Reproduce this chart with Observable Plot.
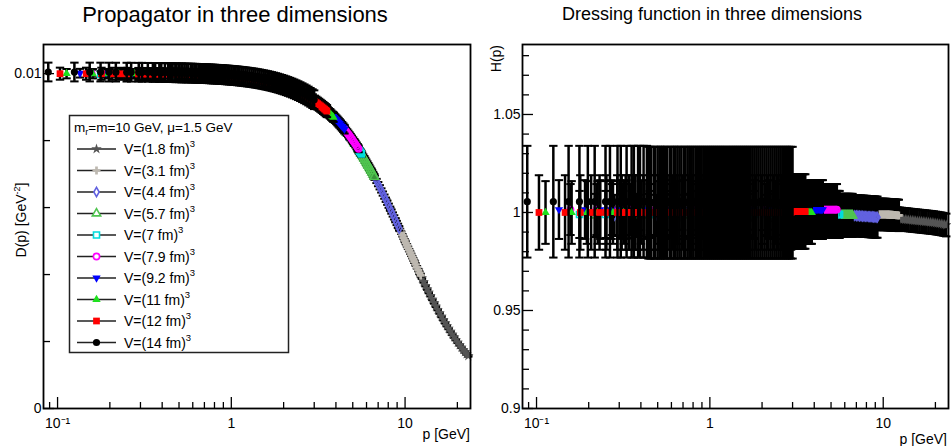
<!DOCTYPE html>
<html><head><meta charset="utf-8">
<script src="https://cdn.jsdelivr.net/npm/d3@7"></script>
<script src="https://cdn.jsdelivr.net/npm/@observablehq/plot@0.6"></script>
<style>
body{margin:0;background:#fff;}
#wrap{position:relative;width:951px;height:446px;overflow:hidden;background:#fff;}
#wrap > svg{position:absolute;top:0;}
</style></head><body><div id="wrap"></div>
<script>
// ---------- data: each point is [p (GeV), H(p), D(p) (GeV^-2)] ----------
const volumes = ["1.8", "3.1", "4.4", "5.7", "7", "7.9", "9.2", "11", "12", "14"];

const v1p8 = [[0.689,0.997,0.009923],[0.974,0.997,0.009876],[1.193,0.997,0.009830],[1.378,0.997,0.009784],[1.7,0.997,0.009690],[2.2,0.997,0.009510],[2.9,0.997,0.009197],[3.8,0.997,0.008712],[5.0,0.997,0.007976],[6.5,0.997,0.007009],[8.2,0.997,0.005962],[10.0,0.997,0.004985],[11.3,0.997,0.004379],[11.9,0.997,0.004126],
[12.2,0.9968,0.004006],[12.5,0.9967,0.003890],[12.8,0.9966,0.003777],[13.1,0.9965,0.003669],[13.4,0.9964,0.003564],[13.7,0.9963,0.003463],[14.0,0.9962,0.003366],[14.35,0.9961,0.003256],[14.7,0.996,0.003151],[15.05,0.9959,0.003050],[15.4,0.9958,0.002953],[15.8,0.9957,0.002848],[16.2,0.9956,0.002747],[16.6,0.9955,0.002651],[17.0,0.9954,0.002559],[17.4,0.9953,0.002471],[17.8,0.9952,0.002387],[18.25,0.9951,0.002298],[18.7,0.995,0.002213],[19.15,0.9949,0.002132],[19.6,0.9948,0.002055],[20.1,0.9946,0.001973],[20.6,0.9945,0.001897],[21.1,0.9943,0.001824],[21.6,0.9942,0.001755],[22.1,0.994,0.001689],[22.6,0.9938,0.001627],[23.1,0.9936,0.001568]];

const v3p1 = [[0.4,0.999,0.009974],[0.566,0.999,0.009958],[0.693,0.999,0.009942],[0.8,0.999,0.009926],[1.0,0.999,0.009891],[1.4,0.999,0.009798],[2.0,0.999,0.009606],[2.8,0.999,0.009264],[3.8,0.999,0.008729],[5.0,0.999,0.007992],[6.4,0.999,0.007087],[7.8,0.999,0.006211],[8.8,0.999,0.005630],[9.2,0.999,0.005411],
[9.35,0.999,0.005330],[9.5,0.999,0.005251],[9.65,0.999,0.005173],[9.8,0.999,0.005096],[9.95,0.999,0.005020],[10.1,0.999,0.004945],[10.25,0.999,0.004872],[10.4,0.999,0.004799],[10.55,0.9989,0.004728],[10.7,0.9989,0.004658],[10.85,0.9989,0.004588],[11.0,0.9988,0.004520],[11.15,0.9988,0.004453],[11.3,0.9988,0.004388],[11.5,0.9987,0.004301],[11.7,0.9987,0.004217],[11.9,0.9986,0.004135],[12.1,0.9986,0.004054],[12.3,0.9985,0.003975]];

const v4p4 = [[0.2818,0.9985,0.009977],[0.3985,0.9985,0.009969],[0.4881,0.9985,0.009961],[0.5636,0.9985,0.009953],[0.7,0.9985,0.009936],[0.9,0.9985,0.009905],[1.2,0.9985,0.009843],[1.6,0.9985,0.009736],[2.1,0.9985,0.009563],[2.7,0.9985,0.009306],[3.4,0.9985,0.008950],[4.2,0.9985,0.008488],[5.0,0.9985,0.007988],[5.8,0.9985,0.007472],[6.4,0.9985,0.007084],[6.6,0.9985,0.006955],
[6.7,0.9984,0.006891],[6.85,0.9984,0.006795],[7.0,0.9983,0.006700],[7.15,0.9983,0.006606],[7.3,0.9982,0.006512],[7.45,0.9982,0.006419],[7.6,0.9981,0.006327],[7.75,0.9981,0.006236],[7.9,0.998,0.006145],[8.05,0.998,0.006056],[8.2,0.9979,0.005967],[8.35,0.9979,0.005880],[8.5,0.9978,0.005793],[8.65,0.9978,0.005708],[8.8,0.9977,0.005623],[8.95,0.9977,0.005540],[9.1,0.9976,0.005457],[9.25,0.9976,0.005376]];

const v5p7 = [[0.2175,0.9985,0.009980],[0.3076,0.9985,0.009976],[0.3767,0.9985,0.009971],[0.435,0.9985,0.009966],[0.55,0.9985,0.009955],[0.75,0.9985,0.009929],[1.0,0.9985,0.009886],[1.3,0.9985,0.009819],[1.7,0.9985,0.009704],[2.2,0.9985,0.009524],[2.8,0.9985,0.009259],[3.4,0.9985,0.008950],[4.0,0.9985,0.008608],[4.6,0.9985,0.008241],[5.1,0.9985,0.007924],[5.4,0.9985,0.007731],
[5.5,0.9985,0.007666],[5.58,0.9985,0.007614],[5.66,0.9985,0.007562],[5.74,0.9985,0.007510],[5.82,0.9985,0.007459],[5.9,0.9985,0.007407],[5.98,0.9985,0.007355],[6.06,0.9985,0.007303],[6.14,0.9985,0.007251],[6.22,0.9985,0.007200],[6.3,0.9985,0.007148],[6.38,0.9985,0.007097],[6.46,0.9985,0.007045],[6.55,0.9985,0.006987],[6.65,0.9985,0.006923]];

const v7p0 = [[0.177,0.999,0.009987],[0.25,0.999,0.009984],[0.307,0.999,0.009981],[0.354,0.999,0.009978],[0.45,0.999,0.009970],[0.6,0.999,0.009954],[0.8,0.999,0.009926],[1.05,0.999,0.009881],[1.4,0.999,0.009798],[1.8,0.999,0.009677],[2.3,0.999,0.009488],[2.8,0.999,0.009264],[3.3,0.999,0.009009],[3.8,0.999,0.008729],[4.3,0.999,0.008431],[4.8,0.999,0.008119],[5.1,0.999,0.007928],[5.3,0.999,0.007799],[5.42,0.999,0.007721],[5.48,0.999,0.007683],[5.54,0.999,0.007644],[5.6,0.999,0.007605]];

const v7p9 = [[0.157,1.0015,0.010013],[0.222,1.0015,0.010010],[0.272,1.0015,0.010008],[0.314,1.0015,0.010005],[0.351,1.0015,0.010003],[0.45,1.0015,0.009995],[0.6,1.0015,0.009979],[0.8,1.0015,0.009951],[1.05,1.0015,0.009906],[1.35,1.0015,0.009836],[1.7,1.0015,0.009734],[2.1,1.0015,0.009592],[2.6,1.0015,0.009381],[3.1,1.0015,0.009137],[3.6,1.0015,0.008866],[4.0,1.0015,0.008634],[4.3,1.0015,0.008452],[4.45,1.0015,0.008360],
[4.5,1.0015,0.008328],[4.57,1.0015,0.008285],[4.64,1.0015,0.008241],[4.71,1.0015,0.008197],[4.78,1.0015,0.008152],[4.86,1.0015,0.008101],[4.94,1.0015,0.008051],[5.02,1.0015,0.007999],[5.1,1.0015,0.007948],[5.18,1.0015,0.007896],[5.26,1.0015,0.007844],[5.34,1.0015,0.007793],[5.4,1.0015,0.007754]];

const v9p2 = [[0.1347,1.0015,0.010013],[0.1905,1.0015,0.010011],[0.2333,1.0015,0.010010],[0.2694,1.0015,0.010008],[0.3012,1.0015,0.010006],[0.33,1.0015,0.010004],[0.42,1.0015,0.009997],[0.55,1.0015,0.009985],[0.7,1.0015,0.009966],[0.9,1.0015,0.009935],[1.15,1.0015,0.009884],[1.45,1.0015,0.009809],[1.8,1.0015,0.009701],[2.2,1.0015,0.009553],[2.6,1.0015,0.009381],[3.0,1.0015,0.009188],[3.4,1.0015,0.008977],[3.7,1.0015,0.008809],[3.85,1.0015,0.008722],
[3.9,1.0015,0.008693],[3.96,1.0015,0.008658],[4.02,1.0015,0.008622],[4.08,1.0015,0.008586],[4.14,1.0015,0.008550],[4.2,1.0015,0.008513],[4.27,1.0015,0.008471],[4.34,1.0015,0.008427],[4.41,1.0015,0.008384],[4.48,1.0015,0.008341]];

const v11 = [[0.1127,1.0,0.009999],[0.1594,1.0,0.009997],[0.1952,1.0,0.009996],[0.2254,1.0,0.009995],[0.252,1.0,0.009994],[0.2761,1.0,0.009992],[0.3188,1.0,0.009990],[0.4,1.0,0.009984],[0.5,1.0,0.009975],[0.65,1.0,0.009958],[0.8,1.0,0.009936],[1.0,1.0,0.009901],[1.3,1.0,0.009834],[1.6,1.0,0.009750],[2.0,1.0,0.009615],[2.4,1.0,0.009455],[2.8,1.0,0.009273],[3.2,1.0,0.009071],[3.4,1.0,0.008964],[3.55,1.0,0.008881],
[3.58,1.0,0.008864],[3.64,1.0,0.008830],[3.7,1.0,0.008796],[3.76,1.0,0.008761],[3.82,1.0,0.008727],[3.87,1.0,0.008697]];

const v12 = [[0.1033,1.0,0.009999],[0.1461,1.0,0.009998],[0.1789,1.0,0.009997],[0.2066,1.0,0.009996],[0.231,1.0,0.009995],[0.253,1.0,0.009994],[0.2922,1.0,0.009991],[0.3099,1.0,0.009990],[0.3267,1.0,0.009989],[0.3426,1.0,0.009988],[0.3578,1.0,0.009987],[0.3725,1.0,0.009986],[0.3865,1.0,0.009985],[0.4132,1.0,0.009983],
[0.45,1.0,0.009980],[0.48,1.0,0.009977],[0.51,1.0,0.009974],[0.54,1.0,0.009971],[0.57,1.0,0.009968],[0.61,1.0,0.009963],[0.65,1.0,0.009958],[0.7,1.0,0.009951],[0.75,1.0,0.009944],[0.8,1.0,0.009936],[0.86,1.0,0.009927],[0.92,1.0,0.009916],[0.99,1.0,0.009903],[1.07,1.0,0.009887],[1.16,1.0,0.009867],[1.27,1.0,0.009841],[1.39,1.0,0.009810],[1.52,1.0,0.009774],[1.66,1.0,0.009732],[1.82,1.0,0.009679],[1.98,1.0,0.009623],[2.15,1.0,0.009558],[2.32,1.0,0.009489],[2.48,1.0,0.009421],[2.62,1.0,0.009358],[2.74,1.0,0.009302],[2.85,1.0,0.009249],[2.94,1.0,0.009204],
[3.02,1.0005,0.009164],[3.08,1.0005,0.009134],[3.14,1.0005,0.009102],[3.2,1.0005,0.009071],[3.26,1.0005,0.009039],[3.32,1.0005,0.009007],[3.38,1.0005,0.008975],[3.44,1.0005,0.008942],[3.5,1.0005,0.008909],[3.55,1.0005,0.008881]];

const v14 = [[0.0884,1.0055,0.010049],[0.125,1.0055,0.010048],[0.1531,1.0055,0.010048],[0.1768,1.0055,0.010047],[0.1977,1.0055,0.010046],[0.2165,1.0055,0.010045],[0.25,1.0055,0.010044],[0.2652,1.0055,0.010043],[0.2932,1.0055,0.010041],[0.3062,1.0055,0.010041],[0.3308,1.0055,0.010039],[0.3536,1.0055,0.010037],[0.3645,1.0055,0.010037],[0.3853,1.0055,0.010035],[0.3953,1.0055,0.010034],[0.4146,1.0055,0.010033],[0.4331,1.0055,0.010031],
[0.442,1.005,0.010030],[0.4507,1.005,0.010030],[0.4593,1.005,0.010029],[0.476,1.005,0.010027],[0.4842,1.005,0.010026],[0.5001,1.005,0.010025],[0.5155,1.005,0.010023],[0.523,1.005,0.010023],[0.5377,1.005,0.010021],[0.5521,1.005,0.010019],[0.566,1.005,0.010018],[0.5864,1.005,0.010016],[0.5995,1.005,0.010014],[0.6188,1.005,0.010012],[0.6313,1.005,0.010010],[0.6496,1.005,0.010008],[0.6674,1.005,0.010005],[0.6847,1.005,0.010003],[0.7072,1.005,0.010000],[0.7236,1.005,0.009998],[0.7449,1.005,0.009995],[0.7656,1.005,0.009991],[0.7857,1.005,0.009988],[0.8054,1.005,0.009985],[0.8293,1.005,0.009981],[0.8525,1.005,0.009977],[0.8751,1.005,0.009974],[0.8972,1.005,0.009970],[0.9229,1.005,0.009965],[0.948,1.005,0.009960],[0.9724,1.005,0.009956],[1.0001,1.005,0.009950],[1.0271,1.005,0.009945],[1.0534,1.005,0.009940],[1.0826,1.005,0.009934],[1.1112,1.005,0.009927],[1.1424,1.005,0.009920],[1.1727,1.005,0.009914],[1.2056,1.005,0.009906],[1.2376,1.005,0.009898],[1.2718,1.005,0.009890],[1.3082,1.005,0.009881],[1.3436,1.005,0.009872],[1.378,1.005,0.009863],[1.4172,1.005,0.009852],[1.4553,1.005,0.009842],[1.495,1.005,0.009830],[1.5362,1.005,0.009818],[1.5764,1.005,0.009806],[1.6204,1.005,0.009793],[1.6632,1.005,0.009779],[1.7096,1.005,0.009765],[1.757,1.005,0.009749],[1.8052,1.005,0.009733],[1.8543,1.005,0.009716],[1.9042,1.005,0.009698],[1.9568,1.005,0.009679],[2.01,1.005,0.009660],[2.0656,1.005,0.009639],[2.1216,1.005,0.009617],[2.1798,1.005,0.009594],[2.2399,1.005,0.009570],[2.3001,1.005,0.009545],[2.3638,1.005,0.009518],[2.4274,1.005,0.009491],[2.494,1.005,0.009462],[2.5621,1.005,0.009431],[2.6328,1.005,0.009399],[2.7045,1.005,0.009366],[2.7786,1.005,0.009330],[2.855,1.005,0.009292],[2.9319,1.005,0.009254],[2.9978,1.005,0.009221]];

const seriesData = [v1p8, v3p1, v4p4, v5p7, v7p0, v7p9, v9p2, v11, v12, v14];
const hErr = [0.0058, 0.008, 0.0105, 0.011, 0.012, 0.013, 0.015, 0.016, 0.019, 0.0285];
const dErr = [0.00002, 0.000036, 0.000063, 0.00008, 0.00009, 0.0001, 0.00013, 0.00014, 0.00018, 0.00028];

// ticks
const xMajor = [0.1, 1, 10];
const xLabels = ["10\u207B\u00B9", "1", "10"];
const xMinor = [0.09, 0.2, 0.3, 0.4, 0.5, 0.6, 0.7, 0.8, 0.9, 2, 3, 4, 5, 6, 7, 8, 9, 20];
const dMajor = [0, 0.01];
const dLabels = ["0", "0.01"];
const dMinor = [0.002, 0.004, 0.006, 0.008];
const hMajor = [0.9, 0.95, 1, 1.05];
const hLabels = ["0.9", "0.95", "1", "1.05"];
const hMinor = [0.91, 0.92, 0.93, 0.94, 0.96, 0.97, 0.98, 0.99, 1.01, 1.02, 1.03, 1.04, 1.06, 1.07, 1.08];

// ---------- styling ----------
const FONT = '"Liberation Sans", Arial, Helvetica, sans-serif';
const colors = ["#555555", "#bdb8b0", "#6262e0", "#4fc44f", "#00dcdc", "#ff00ff", "#0000ff", "#1ee01e", "#ff0000", "#000000"];
const invTri = {draw(c, s) { const y = Math.sqrt(s / (Math.sqrt(3) * 3)); c.moveTo(0, 2 * y); c.lineTo(Math.sqrt(3) * y, -y); c.lineTo(-Math.sqrt(3) * y, -y); c.closePath(); }};
const capSym = {draw(c, s) { const w = Math.sqrt(s / Math.PI); c.moveTo(-w, 0); c.lineTo(w, 0); }};
const symbols = [d3.symbolStar, d3.symbolCross, d3.symbolDiamond, d3.symbolTriangle, d3.symbolSquare, d3.symbolCircle, invTri, d3.symbolTriangle, d3.symbolSquare, d3.symbolCircle];
const isOpen = [false, false, true, true, true, true, false, false, false, false];
const radii = [3.3, 3.4, 2.8, 3.1, 3.4, 3.1, 3.1, 3.1, 3.8, 3.6];

const TOP = 44, BOTTOM = 38, H = 446;

function panel({key, err, yDomain, yMajor, yLabels, yMinor, width, marginLeft, marginRight}) {
  const frameW = width - marginLeft - marginRight, frameH = H - TOP - BOTTOM;
  const marks = [];
  seriesData.forEach((arr, i) => {
    const rows = arr.map(([p, h, d]) => { const v = key === "H" ? h : d; return {p, v, lo: v - err[i], hi: v + err[i]}; });
    marks.push(
      Plot.ruleX(rows, {x: "p", y1: "lo", y2: "hi", stroke: "#000", strokeWidth: 2.5}),
      Plot.dot(rows, {x: "p", y: "lo", symbol: capSym, r: 4.2, stroke: "#000", fill: "none", strokeWidth: 2}),
      Plot.dot(rows, {x: "p", y: "hi", symbol: capSym, r: 4.2, stroke: "#000", fill: "none", strokeWidth: 2}),
      Plot.dot(rows, {x: "p", y: "v", symbol: symbols[i], r: radii[i],
        fill: isOpen[i] ? "none" : colors[i], stroke: isOpen[i] ? colors[i] : "none", strokeWidth: isOpen[i] ? 1.6 : 0})
    );
  });
  const xl = new Map(xMajor.map((v, i) => [v, xLabels[i]]));
  const yl = new Map(yMajor.map((v, i) => [v, yLabels[i]]));
  marks.push(
    Plot.ruleX(xMajor, {x: d => d, insetTop: frameH - 11, stroke: "#000", strokeWidth: 1.3}),
    Plot.ruleX(xMinor, {x: d => d, insetTop: frameH - 6, stroke: "#000", strokeWidth: 1.3}),
    Plot.ruleY(yMajor, {y: d => d, insetRight: frameW - 11, stroke: "#000", strokeWidth: 1.3}),
    Plot.ruleY(yMinor, {y: d => d, insetRight: frameW - 7, stroke: "#000", strokeWidth: 1.3}),
    Plot.axisX(xMajor, {tickSize: 0, tickPadding: 10, tickFormat: d => xl.get(d), label: null, fontSize: 14}),
    Plot.axisY(yMajor, {tickSize: 0, tickPadding: 2, tickFormat: d => yl.get(d), label: null, fontSize: 14}),
    Plot.frame({stroke: "#000", strokeWidth: 1.8})
  );
  return Plot.plot({
    width, height: H, marginLeft, marginRight, marginTop: TOP, marginBottom: BOTTOM,
    x: {type: "log", domain: [0.083, 23.8]},
    y: {domain: yDomain},
    style: {background: "transparent", fontFamily: FONT, fontSize: "14px", color: "#000", overflow: "visible"},
    marks
  });
}

const wrap = document.getElementById("wrap");
const left = panel({key: "D", err: dErr, yDomain: [0, 0.01087], yMajor: dMajor, yLabels: dLabels, yMinor: dMinor, width: 480, marginLeft: 43, marginRight: 10});
left.style.left = "0px";
wrap.appendChild(left);
const right = panel({key: "H", err: hErr, yDomain: [0.9, 1.0857], yMajor: hMajor, yLabels: hLabels, yMinor: hMinor, width: 471, marginLeft: 42, marginRight: 3});
right.style.left = "480px";
wrap.appendChild(right);

// ---------- titles, axis titles, legend ----------
const ov = d3.create("svg").attr("width", 951).attr("height", 446)
  .style("left", "0px").style("font-family", FONT).style("pointer-events", "none");
ov.append("text").attr("x", 235).attr("y", 22).attr("text-anchor", "middle").attr("font-size", 22).text("Propagator in three dimensions");
ov.append("text").attr("x", 712).attr("y", 20).attr("text-anchor", "middle").attr("font-size", 18).text("Dressing function in three dimensions");
const yt = ov.append("text").attr("transform", "translate(26,220) rotate(-90)").attr("text-anchor", "middle").attr("font-size", 14);
yt.append("tspan").text("D(p) [GeV");
yt.append("tspan").attr("font-size", 9).attr("dy", -6).text("-2");
yt.append("tspan").attr("dy", 6).text("]");
ov.append("text").attr("transform", "translate(501,45) rotate(-90)").attr("text-anchor", "end").attr("font-size", 14).text("H(p)");
ov.append("text").attr("x", 470).attr("y", 439).attr("text-anchor", "end").attr("font-size", 14).text("p [GeV]");
ov.append("text").attr("x", 947).attr("y", 444).attr("text-anchor", "end").attr("font-size", 14).text("p [GeV]");

const lg = ov.append("g");
lg.append("rect").attr("x", 69.5).attr("y", 115.5).attr("width", 219).attr("height", 237)
  .attr("fill", "#fff").attr("stroke", "#222").attr("stroke-width", 1.5);
const hd = lg.append("text").attr("x", 74).attr("y", 132).attr("font-size", 13.5);
hd.append("tspan").text("m");
hd.append("tspan").attr("font-size", 9).attr("dy", 3).text("r");
hd.append("tspan").attr("dy", -3).text("=m=10 GeV, \u03BC=1.5 GeV");
volumes.forEach((v, i) => {
  const y = 149 + i * 21.5;
  lg.append("line").attr("x1", 77).attr("x2", 116).attr("y1", y).attr("y2", y).attr("stroke", "#222").attr("stroke-width", 1.3);
  lg.append("path").attr("transform", `translate(96.5,${y})`)
    .attr("d", d3.symbol(symbols[i], Math.PI * radii[i] * radii[i])())
    .attr("fill", isOpen[i] ? "#fff" : colors[i]).attr("stroke", isOpen[i] ? colors[i] : "none").attr("stroke-width", 1.6);
  const t = lg.append("text").attr("x", 124).attr("y", y + 5).attr("font-size", 14);
  t.append("tspan").text(`V=(${v} fm)`);
  t.append("tspan").attr("font-size", 9.5).attr("dy", -7).text("3");
});
wrap.appendChild(ov.node());
</script>
</body></html>
